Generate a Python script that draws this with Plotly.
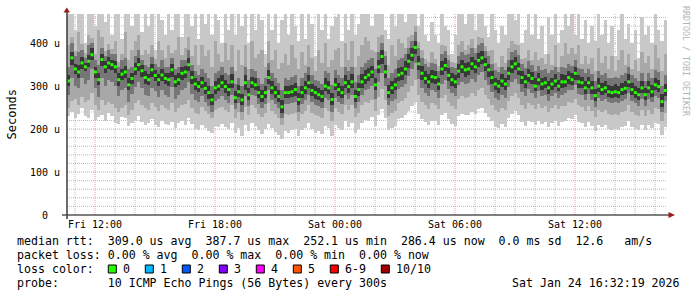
import plotly.graph_objects as go
import pandas as pd

# ---------------- data (10-minute steps) ----------------
START = "2026-01-23 10:36:00"
STEP_MIN = 10

med = [312,366,340,333,354,345,358,373,333,315,
       362,345,354,350,345,315,328,333,303,318,
       340,350,336,320,315,338,325,315,326,318,
       315,338,310,315,330,333,350,320,305,299,
       308,295,285,268,296,300,308,299,292,310,
       273,287,268,308,280,308,303,285,276,285,
       320,296,285,276,252,285,285,287,292,269,
       285,296,308,290,285,280,276,300,296,269,
       303,292,285,308,299,310,276,292,310,320,
       326,333,303,345,369,333,285,296,303,326,
       330,340,358,372,390,352,330,318,310,322,
       320,305,340,348,325,315,310,335,345,338,
       340,352,345,360,366,350,338,320,305,300,
       312,305,330,345,352,340,320,310,325,318,
       300,315,305,308,296,305,312,300,310,310,
       320,315,330,310,308,296,308,296,278,300,
       292,296,287,285,287,285,292,295,310,292,
       285,280,296,280,296,287,303,299,264,290]

mx = [470,470,430,470,470,400,470,470,440,470,
      470,450,470,420,470,470,410,470,470,440,
      470,470,425,470,440,470,385,470,455,420,
      470,430,470,470,415,470,470,440,470,410,
      470,445,470,420,470,455,400,470,430,470,
      420,470,440,470,400,470,430,470,455,375,
      470,430,470,400,455,470,420,470,440,405,
      470,410,470,445,370,470,430,470,410,440,
      460,470,405,470,430,470,420,445,470,470,
      470,440,470,470,470,430,410,470,440,470,
      470,450,470,470,470,440,470,420,405,450,
      420,400,470,440,430,375,420,470,470,445,
      470,470,430,470,470,440,415,470,430,400,
      440,420,470,470,455,470,400,430,470,420,
      470,410,440,375,460,420,470,400,430,470,
      440,470,420,470,410,455,400,440,405,470,
      420,455,400,440,370,430,470,410,445,400,
      430,365,460,420,440,400,470,430,405,455]

hi2 = [395,415,382,425,397,377,420,412,375,430,
       415,382,397,387,405,357,375,425,360,385,
       405,420,372,385,375,395,364,405,385,365,
       395,377,385,415,372,390,415,370,395,350,
       395,370,385,345,405,375,357,400,360,395,
       335,385,350,395,340,405,365,375,385,345,
       405,360,385,340,355,375,350,395,365,340,
       380,350,395,365,335,385,355,400,345,360,
       385,390,345,400,360,405,345,370,395,415,
       405,385,380,415,420,382,350,395,370,410,
       400,390,415,420,440,402,385,364,357,380,
       364,347,395,394,372,357,355,395,405,384,
       395,410,390,415,412,394,382,385,355,345,
       370,355,390,405,397,395,364,365,385,362,
       380,360,365,352,375,350,395,345,370,400,
       375,390,374,395,352,370,352,365,335,390,
       355,370,340,370,335,360,385,350,375,340,
       360,335,380,355,370,340,395,365,335,375]

hi3 = [345,400,370,380,385,365,395,400,360,350,
       390,370,385,375,375,345,360,365,340,345,
       370,385,360,350,345,368,352,345,360,345,
       345,365,340,345,360,360,385,350,335,325,
       340,330,320,300,330,335,345,330,325,345,
       305,320,300,345,315,340,335,320,305,318,
       355,330,320,308,290,320,315,322,325,300,
       318,330,345,325,315,312,305,335,330,302,
       338,325,318,345,335,345,310,325,345,355,
       360,365,340,380,400,370,320,330,340,360,
       365,375,390,405,425,390,365,352,345,355,
       352,335,375,382,360,345,342,370,380,372,
       375,388,378,395,400,382,370,352,338,332,
       345,338,362,380,385,372,352,342,358,350,
       335,348,338,340,330,338,345,332,345,342,
       352,348,362,342,340,330,340,328,312,335,
       325,330,320,318,322,318,326,330,345,325,
       318,312,330,312,330,320,338,332,300,325]

hi4 = [325,380,352,350,368,355,372,388,345,330,
       375,358,368,360,358,330,340,348,318,330,
       355,365,350,335,328,352,338,328,340,330,
       330,352,325,330,345,348,365,335,320,312,
       322,310,300,282,312,318,325,315,305,328,
       288,302,282,325,295,322,318,300,290,300,
       338,312,300,292,268,300,300,302,308,285,
       300,312,325,305,300,295,290,318,312,285,
       318,308,300,325,315,328,292,308,328,338,
       342,348,320,362,385,350,302,312,318,342,
       345,358,375,388,405,370,348,335,328,338,
       335,320,358,365,342,330,325,352,362,355,
       356,368,360,378,382,365,352,335,320,315,
       328,320,345,362,368,355,335,325,340,332,
       318,330,320,322,312,320,328,315,328,325,
       335,330,345,325,322,312,322,312,294,318,
       308,312,302,300,304,300,308,312,328,308,
       300,295,312,295,312,302,320,315,282,306]

lo4 = [300,350,328,318,340,335,345,360,320,302,
       348,330,340,338,330,300,315,320,290,305,
       325,335,322,305,302,322,312,300,312,305,
       300,322,298,302,315,318,335,305,292,286,
       295,282,270,255,282,288,295,285,278,296,
       260,275,255,292,268,295,290,272,262,272,
       305,282,272,262,238,272,272,275,278,255,
       272,282,295,278,270,268,262,288,282,255,
       290,278,272,295,285,295,262,278,296,305,
       312,318,290,330,352,318,272,282,290,312,
       315,325,342,358,375,338,315,305,296,308,
       305,292,325,335,312,300,296,320,330,322,
       325,338,330,345,352,335,322,305,292,285,
       298,292,315,330,338,325,305,296,310,304,
       288,302,292,295,282,292,298,288,296,298,
       306,302,315,296,295,282,295,282,265,286,
       280,284,275,272,275,272,280,282,298,280,
       272,268,284,268,284,275,290,286,252,278]

lo3 = [280,320,300,295,320,305,315,340,295,275,
       320,300,315,310,300,278,290,295,262,282,
       298,310,295,280,278,295,288,275,290,280,
       275,298,270,280,292,295,310,282,268,262,
       277,263,253,240,265,270,277,267,260,280,
       246,260,240,278,253,280,276,258,248,258,
       290,268,258,248,226,258,258,260,263,240,
       258,268,280,263,256,253,248,273,268,240,
       273,263,258,280,270,280,248,263,280,290,
       293,300,270,310,330,300,255,265,270,293,
       297,305,323,340,355,317,295,285,277,290,
       287,273,305,315,293,283,277,303,310,305,
       307,317,310,325,333,315,303,287,273,267,
       280,273,297,310,317,305,287,277,293,285,
       273,288,278,280,266,278,283,273,280,283,
       292,290,302,282,280,268,282,268,252,272,
       266,270,262,260,262,260,266,270,285,266,
       260,254,270,254,270,262,276,272,240,265]

lo2 = [250,265,270,255,275,262,268,285,255,245,
       268,255,262,258,248,240,250,255,232,245,
       260,268,255,248,245,260,252,242,255,248,
       245,260,240,248,255,258,268,250,238,235,
       252,242,235,225,245,248,252,245,240,255,
       225,240,222,252,232,255,250,235,228,238,
       260,242,235,225,210,235,232,235,238,220,
       235,242,255,238,232,230,225,248,242,220,
       248,240,235,255,245,255,228,238,255,262,
       260,267,243,275,293,267,230,237,243,260,
       265,273,287,300,315,280,263,255,247,260,
       257,247,273,280,263,253,247,270,277,273,
       275,283,277,290,295,280,270,257,245,240,
       250,245,265,277,285,273,255,247,260,255,
       246,258,250,253,240,250,256,246,253,254,
       262,260,270,255,252,242,254,242,228,245,
       240,244,235,234,236,234,240,242,256,240,
       234,230,244,230,244,236,250,246,218,238]

mn = [230,240,225,235,248,230,225,245,222,228,
      232,220,238,230,215,212,228,226,208,215,
      220,230,217,210,215,223,210,205,220,213,
      210,217,203,215,220,210,227,213,200,197,
      210,202,195,190,208,205,212,206,200,215,
      190,202,185,210,195,215,208,198,188,200,
      213,203,193,186,176,196,190,198,200,184,
      198,202,215,200,192,195,188,208,202,185,
      210,202,198,218,205,215,192,200,215,222,
      220,228,208,233,246,226,198,203,208,223,
      226,233,243,253,263,236,223,216,210,220,
      220,210,233,238,223,213,208,230,236,233,
      233,240,236,246,250,238,228,218,206,203,
      213,206,226,236,243,233,216,208,220,216,
      210,220,212,217,204,214,220,208,217,218,
      225,223,233,217,215,205,217,207,195,210,
      205,209,201,199,201,199,205,207,220,205,
      201,197,210,197,210,203,215,211,187,205]

x_tick_vals = ["2026-01-23 12:00", "2026-01-23 18:00", "2026-01-24 00:00",
               "2026-01-24 06:00", "2026-01-24 12:00"]
x_tick_text = ["Fri 12:00", "Fri 18:00", "Sat 00:00", "Sat 06:00", "Sat 12:00"]
y_tick_vals = [0, 100, 200, 300, 400]
y_tick_text = ["0\u00a0\u00a0", "100 u", "200 u", "300 u", "400 u"]

loss_labels = ["0", "1", "2", "3", "4", "5", "6-9", "10/10"]
loss_colors = ["#26ff00", "#00b8ff", "#0059ff", "#7e00ff", "#ff00ff",
               "#ff5500", "#ff0000", "#a10000"]

stat_lines = [
    "median rtt:  309.0 us avg  387.7 us max  252.1 us min  286.4 us now  0.0 ms sd  12.6   am/s",
    "packet loss: 0.00 % avg  0.00 % max  0.00 % min  0.00 % now",
    "loss color:",
    "probe:       10 ICMP Echo Pings (56 Bytes) every 300s",
]
stamp = "Sat Jan 24 16:32:19 2026"
watermark = "RRDTOOL / TOBI OETIKER"

# ---------------- figure ----------------
W, H = 697, 297
L, R, T, B = 67, 30, 14, 82
PW, PH = W - L - R, H - T - B
YMAX = 468
MONO = "DejaVu Sans Mono"


def px(x):
    return (x - L) / PW


def py(y):
    return (H - B - y) / PH


times = pd.date_range(START, periods=len(med), freq=f"{STEP_MIN}min")
centers = times + pd.Timedelta(minutes=STEP_MIN / 2)
x_end = times[-1] + pd.Timedelta(minutes=STEP_MIN)

fig = go.Figure()
bands = [(mn, mx, "#c8c8c8"), (lo2, hi2, "#a8a8a8"),
         (lo3, hi3, "#767676"), (lo4, hi4, "#383838")]
for lo, hi, col in bands:
    fig.add_trace(go.Bar(
        x=centers, base=lo, y=[h - l for h, l in zip(hi, lo)],
        width=STEP_MIN * 60 * 1000,
        marker=dict(color=col, line=dict(width=0)),
        hoverinfo="skip", showlegend=False))

fig.add_trace(go.Scatter(
    x=centers, y=med, mode="markers",
    marker=dict(symbol="square", size=3, color=loss_colors[0], line=dict(width=0)),
    hoverinfo="skip", showlegend=False))

shapes = []
GRID_MINOR = "rgba(170,170,170,0.8)"
GRID_MAJOR = "rgba(225,130,130,0.8)"
hours = pd.date_range("2026-01-23 11:00", "2026-01-24 16:00", freq="1h")
for h in hours:
    major = h.hour % 6 == 0
    shapes.append(dict(type="line", xref="x", yref="paper", x0=h, x1=h, y0=0, y1=1,
                       layer="below",
                       line=dict(color=GRID_MAJOR if major else GRID_MINOR,
                                 width=1, dash="1px,1px")))
for v in range(20, YMAX, 20):
    major = v % 100 == 0
    shapes.append(dict(type="line", xref="paper", yref="y", x0=0, x1=1, y0=v, y1=v,
                       layer="below",
                       line=dict(color=GRID_MAJOR if major else GRID_MINOR,
                                 width=1, dash="1px,1px")))
# axes
shapes.append(dict(type="line", xref="paper", yref="paper", x0=px(62), x1=px(669),
                   y0=0, y1=0, layer="above", line=dict(color="#000000", width=1)))
shapes.append(dict(type="line", xref="paper", yref="paper", x0=0, x1=0,
                   y0=py(219), y1=py(12), layer="above", line=dict(color="#3a3a3a", width=1.5)))
# arrows
shapes.append(dict(type="path", xref="paper", yref="paper", layer="above",
                   path=f"M {px(63.5)} {py(12.5)} L {px(70)} {py(12.5)} L {px(66.8)} {py(7.5)} Z",
                   fillcolor="#9a1c1c", line=dict(width=0)))
shapes.append(dict(type="path", xref="paper", yref="paper", layer="above",
                   path=f"M {px(668.5)} {py(212)} L {px(668.5)} {py(218)} L {px(675)} {py(215)} Z",
                   fillcolor="#9a1c1c", line=dict(width=0)))

annotations = []


def nb(s):
    return s.replace(" ", "\u00a0")


line_y = [241, 255, 269, 283]
for txt, yy in zip(stat_lines, line_y):
    annotations.append(dict(text=nb(txt), xref="paper", yref="paper", x=px(16), y=py(yy),
                            xanchor="left", yanchor="middle", showarrow=False, borderpad=0,
                            font=dict(family=MONO, size=11.6, color="#000000")))
annotations.append(dict(text=nb(stamp), xref="paper", yref="paper", x=px(681), y=py(283),
                        xanchor="right", yanchor="middle", showarrow=False, borderpad=0,
                        font=dict(family=MONO, size=11.6, color="#000000")))

sx = 108.3
for lab, col in zip(loss_labels, loss_colors):
    shapes.append(dict(type="rect", xref="paper", yref="paper", layer="above",
                       x0=px(sx), x1=px(sx + 8), y0=py(273), y1=py(265),
                       fillcolor=col, line=dict(color="#000000", width=1)))
    annotations.append(dict(text=nb(lab), xref="paper", yref="paper", x=px(sx + 14), y=py(269),
                            xanchor="left", yanchor="middle", showarrow=False, borderpad=0,
                            font=dict(family=MONO, size=11.6, color="#000000")))
    sx += 37 + 7 * (len(lab) - 1)

annotations.append(dict(text="Seconds", xref="paper", yref="paper", x=px(11), y=py(114.5),
                        xanchor="center", yanchor="middle", textangle=-90, showarrow=False,
                        borderpad=0, font=dict(family=MONO, size=12, color="#000000")))
annotations.append(dict(text=nb(watermark), xref="paper", yref="paper", x=px(686), y=py(5),
                        xanchor="center", yanchor="top", textangle=90, showarrow=False,
                        borderpad=0, font=dict(family=MONO, size=8.3, color="#b4b4b4")))

fig.update_layout(
    width=W, height=H, autosize=False,
    margin=dict(l=L, r=R, t=T, b=B, pad=0),
    paper_bgcolor="white", plot_bgcolor="white",
    barmode="overlay", bargap=0, showlegend=False,
    shapes=shapes, annotations=annotations,
    xaxis=dict(type="date", range=[times[0], x_end], showgrid=False, zeroline=False,
               showline=False, ticks="", tickmode="array", tickvals=x_tick_vals,
               ticktext=x_tick_text, tickfont=dict(family=MONO, size=10, color="#000000"),
               ticklabelstandoff=2, fixedrange=True),
    yaxis=dict(range=[0, YMAX], showgrid=False, zeroline=False, showline=False, ticks="",
               tickmode="array", tickvals=y_tick_vals, ticktext=y_tick_text,
               tickfont=dict(family=MONO, size=10, color="#000000"),
               ticklabelstandoff=6, fixedrange=True),
)

fig.write_html("out.html", config={"displayModeBar": False})
